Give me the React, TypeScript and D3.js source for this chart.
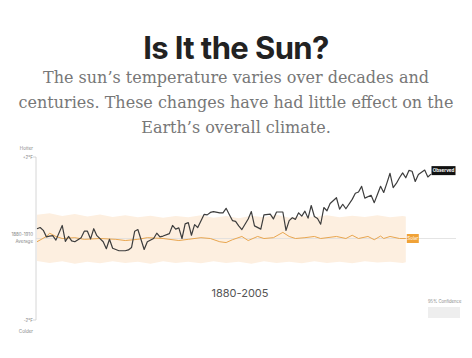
import * as d3 from 'd3'

// observed temperature, °F difference from the 1880-1910 average
const obsYears = [1880,1881,1882,1883,1884,1885,1886,1888,1889,1890,1891,1892,1894,1895,1896,1897,1898,1899,1901,1902,1903,1904,1906,1908,1909,1910,1911,1912,1914,1915,1917,1918,1919,1920,1922,1923,1924,1925,1926,1927,1928,1929,1930,1931,1933,1934,1935,1936,1938,1939,1940,1941,1942,1943,1944,1945,1947,1948,1949,1951,1952,1954,1955,1956,1958,1959,1960,1961,1962,1963,1964,1965,1966,1967,1968,1969,1970,1971,1972,1973,1975,1976,1977,1978,1980,1981,1982,1983,1984,1986,1987,1988,1989,1990,1991,1992,1993,1994,1995,1996,1997,1998,1999,2000,2001,2003,2004,2005]
const obsValues = [0.24,0.27,0.20,0.04,0.06,0.07,-0.04,0.32,-0.07,0.05,-0.06,-0.08,0.02,0.18,0.18,-0.01,0.24,0.07,-0.08,-0.25,-0.02,-0.24,-0.30,-0.30,-0.28,-0.22,0.18,0.22,-0.27,-0.08,0.00,0.13,0.04,0.06,0.12,0.32,0.23,0.26,0.00,0.36,0.39,0.08,0.34,0.27,0.59,0.58,0.64,0.66,0.63,0.63,0.74,0.59,0.44,0.42,0.31,0.22,0.48,0.66,0.31,0.23,0.58,0.60,0.48,0.65,0.65,0.20,0.44,0.51,0.47,0.63,0.55,0.67,0.50,0.81,0.54,0.49,0.35,0.76,0.68,0.86,1.00,0.72,0.84,0.73,0.96,1.11,1.14,1.28,0.99,1.06,0.88,1.08,1.28,1.13,1.36,1.60,1.25,1.35,1.49,1.61,1.49,1.67,1.65,1.40,1.57,1.68,1.51,1.58]

// solar-driven temperature
const solarYears = [1880,1883,1884,1886,1888,1892,1895,1900,1905,1908,1912,1915,1920,1925,1928,1932,1935,1938,1940,1942,1945,1947,1950,1952,1955,1958,1960,1962,1965,1968,1970,1975,1978,1980,1982,1985,1987,1989,1990,1992,1995,1997]
const solarValues = [-0.08,0.05,0.13,0.05,0.0,0.02,-0.02,0.0,-0.02,-0.05,-0.02,0.02,0.0,-0.05,-0.02,0.02,0.0,-0.08,-0.1,-0.03,0.05,-0.05,0.05,0.0,0.02,0.15,0.05,0.0,0.02,0.05,0.0,0.05,0.0,0.08,0.0,0.05,-0.03,0.06,0.0,0.05,0.0,0.0]

// 95% confidence band around the solar line
const bandYears = [1880,1884,1888,1892,1896,1900,1904,1908,1912,1916,1920,1924,1928,1932,1936,1940,1944,1948,1952,1956,1960,1964,1968,1972,1976,1980,1984,1988,1992,1996,1997]
const bandUpper = [0.58,0.62,0.55,0.60,0.54,0.59,0.53,0.57,0.52,0.56,0.51,0.55,0.52,0.57,0.51,0.55,0.50,0.56,0.52,0.58,0.51,0.55,0.53,0.57,0.52,0.56,0.53,0.57,0.52,0.55,0.54]
const bandLower = [-0.55,-0.60,-0.56,-0.62,-0.57,-0.61,-0.56,-0.60,-0.57,-0.62,-0.56,-0.60,-0.57,-0.61,-0.56,-0.60,-0.57,-0.62,-0.56,-0.60,-0.57,-0.61,-0.56,-0.60,-0.57,-0.61,-0.56,-0.59,-0.57,-0.60,-0.58]

const subtitle = [
  'The sun\u2019s temperature varies over decades and',
  'centuries. These changes have had little effect on the',
  'Earth\u2019s overall climate.',
]

const W = 472
const H = 358

const App = () => {
  const x = d3.scaleLinear().domain([1880, 2005]).range([37, 431])
  const y = d3.scaleLinear().domain([-2, 2]).range([320, 157])

  const obs = obsYears.map((yr, i) => [yr, obsValues[i]] as [number, number])
  const sol = solarYears.map((yr, i) => [yr, solarValues[i]] as [number, number])

  const line = d3.line<[number, number]>()
    .x((d) => x(d[0]))
    .y((d) => y(d[1]))

  const band = d3.area<number>()
    .x((_, i) => x(bandYears[i]))
    .y0((_, i) => y(bandLower[i]))
    .y1((_, i) => y(bandUpper[i]))

  const lastObs = obs[obs.length - 1]
  const lastSol = sol[sol.length - 1]
  const sans = 'Inter, "Liberation Sans", Arial, sans-serif'

  return (
    <svg width={W} height={H} style={{position: 'absolute', left: 0, top: 0, background: '#fff'}}>
      <text x={W / 2} y={59} textAnchor="middle" fontFamily={sans} fontWeight={700}
            fontSize={31} fill="#222" letterSpacing={-0.6}>Is It the Sun?</text>
      {subtitle.map((t, i) => (
        <text key={i} x={W / 2} y={83 + i * 25} textAnchor="middle"
              fontFamily='"DejaVu Serif", serif' fontSize={16} fill="#777">{t}</text>
      ))}

      <path d={band(bandYears) ?? ''} fill="#fdefe0"/>

      {/* axis */}
      <line x1={36} x2={36} y1={157} y2={320} stroke="#ccc" strokeWidth={0.8}/>
      <line x1={36} x2={456} y1={y(0)} y2={y(0)} stroke="#ddd" strokeWidth={0.8}/>
      <line x1={33} x2={36} y1={y(2)} y2={y(2)} stroke="#ccc" strokeWidth={0.8}/>
      <line x1={33} x2={36} y1={y(-2)} y2={y(-2)} stroke="#ccc" strokeWidth={0.8}/>

      <g fontFamily={sans} fontSize={4.5} fill="#888" textAnchor="end">
        <text x={33} y={150}>Hotter</text>
        <text x={33} y={159}>+2°F</text>
        <text x={33} y={236}>1880-1910</text>
        <text x={33} y={243}>Average</text>
        <text x={33} y={322}>-2°F</text>
        <text x={33} y={333}>Colder</text>
      </g>

      <path d={line(sol) ?? ''} fill="none" stroke="#e9a64f" strokeWidth={1}/>
      <path d={line(obs) ?? ''} fill="none" stroke="#3d3d3d" strokeWidth={1.2} strokeLinejoin="round"/>

      <rect x={x(lastObs[0]) + 0.5} y={y(lastObs[1]) - 8} width={24} height={9} fill="#111"/>
      <text x={x(lastObs[0]) + 12.5} y={y(lastObs[1]) - 2} textAnchor="middle" fontFamily={sans}
            fontSize={4.5} fontWeight={700} fill="#fff">Observed</text>

      <rect x={x(lastSol[0]) + 1} y={y(lastSol[1]) - 4.5} width={12} height={9} fill="#f0a237"/>
      <text x={x(lastSol[0]) + 7} y={y(lastSol[1]) + 1.5} textAnchor="middle" fontFamily={sans}
            fontSize={4.5} fill="#fff">Solar</text>

      <text x={240} y={297} textAnchor="middle" fontFamily={sans} fontSize={11} fill="#555">1880-2005</text>

      <text x={428} y={303} fontFamily={sans} fontSize={4.2} fill="#888">95% Confidence</text>
      <rect x={428} y={307} width={32} height={11} fill="#eeeeee"/>
    </svg>
  )
}

export default App
